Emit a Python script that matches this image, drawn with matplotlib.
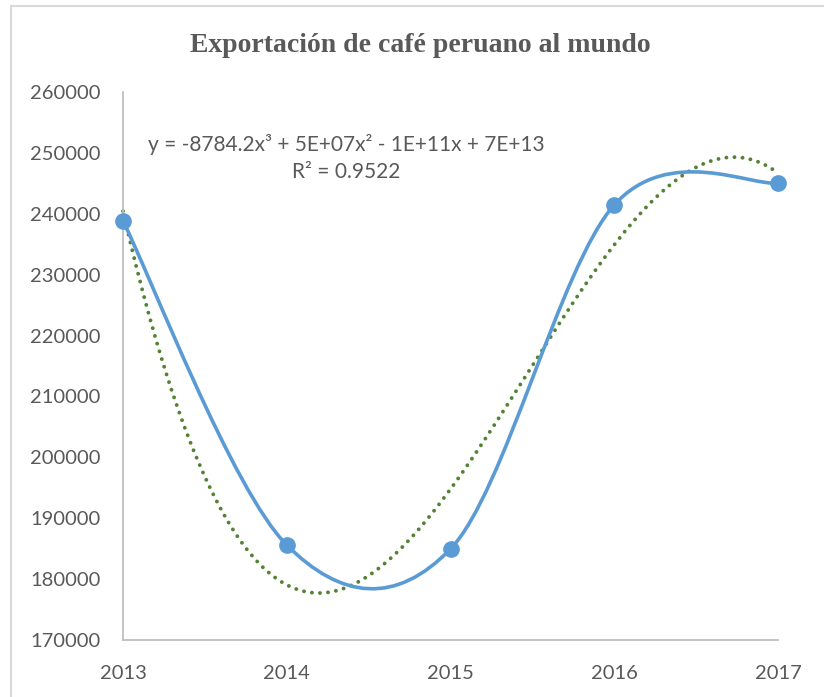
import numpy as np
import matplotlib
matplotlib.use("Agg")
import matplotlib.pyplot as plt
from matplotlib.path import Path
from matplotlib.patches import PathPatch, Rectangle

years = [2013, 2014, 2015, 2016, 2017]
exports = [238800, 185600, 184960, 241450, 245060]
y_ticks = [170000, 180000, 190000, 200000, 210000, 220000, 230000, 240000, 250000, 260000]
title = "Exportación de café peruano al mundo"
eq_text = "y = -8784.2x³ + 5E+07x² - 1E+11x + 7E+13\nR² = 0.9522"

BLUE = "#5B9BD5"
GREEN = "#548235"
GRAY = "#595959"
sans = ["Lato", "DejaVu Sans"]

fig = plt.figure(figsize=(8.24, 6.97), dpi=100)
ax = fig.add_axes([123 / 824, 1 - 640 / 697, (778 - 123) / 824, (640 - 92) / 697])

# smoothed line like excel (bezier between points)
x = np.array(years, dtype=float)
y = np.array(exports, dtype=float)
pts = np.column_stack([x, y])
ext = np.vstack([pts[0], pts, pts[-1]])
verts = [pts[0]]
codes = [Path.MOVETO]
for i in range(len(pts) - 1):
    p0, p1, p2, p3 = ext[i], ext[i + 1], ext[i + 2], ext[i + 3]
    verts += [p1 + (p2 - p0) / 6, p2 - (p3 - p1) / 6, p2]
    codes += [Path.CURVE4] * 3
ax.add_patch(PathPatch(Path(verts, codes), facecolor="none", edgecolor=BLUE,
                       lw=2.6, capstyle="round", joinstyle="round", zorder=3))
ax.plot(years, exports, "o", color=BLUE, ms=11, zorder=4, clip_on=False)

# polynomial trendline (order 3)
xc = x - 2015
coef = np.polyfit(xc, y, 3)
xs = np.linspace(xc.min(), xc.max(), 300)
ax.plot(xs + 2015, np.polyval(coef, xs), color=GREEN, lw=2.8,
        linestyle=(0, (0.01, 2.06)), dash_capstyle="round", zorder=2, clip_on=False)

ax.set_xlim(2013, 2017)
ax.set_ylim(170000, 260000)
ax.set_xticks(years)
ax.set_yticks(y_ticks)
ax.tick_params(length=0, labelsize=14.5, labelcolor=GRAY)
ax.tick_params(axis="y", pad=16)
ax.tick_params(axis="x", pad=18)
for lab in ax.get_xticklabels() + ax.get_yticklabels():
    lab.set_family(sans)
for s in ["top", "right"]:
    ax.spines[s].set_visible(False)
for s in ["left", "bottom"]:
    ax.spines[s].set_color("#BFBFBF")
    ax.spines[s].set_linewidth(1.3)

fig.text(0.51, 1 - 46 / 697, title, ha="center", va="center", family="Liberation Serif",
         fontweight="bold", fontsize=20, color=GRAY)
fig.text(346 / 824, 1 - 158 / 697, eq_text, ha="center", va="center", family=sans,
         fontsize=15, color=GRAY, linespacing=1.45)

fig.patches.append(Rectangle((11 / 824, -0.05), 1.1, 1 - 6 / 697 + 0.05, transform=fig.transFigure,
                             fill=False, edgecolor="#D9D9D9", lw=1.5))

fig.savefig("out.png", dpi=100)
